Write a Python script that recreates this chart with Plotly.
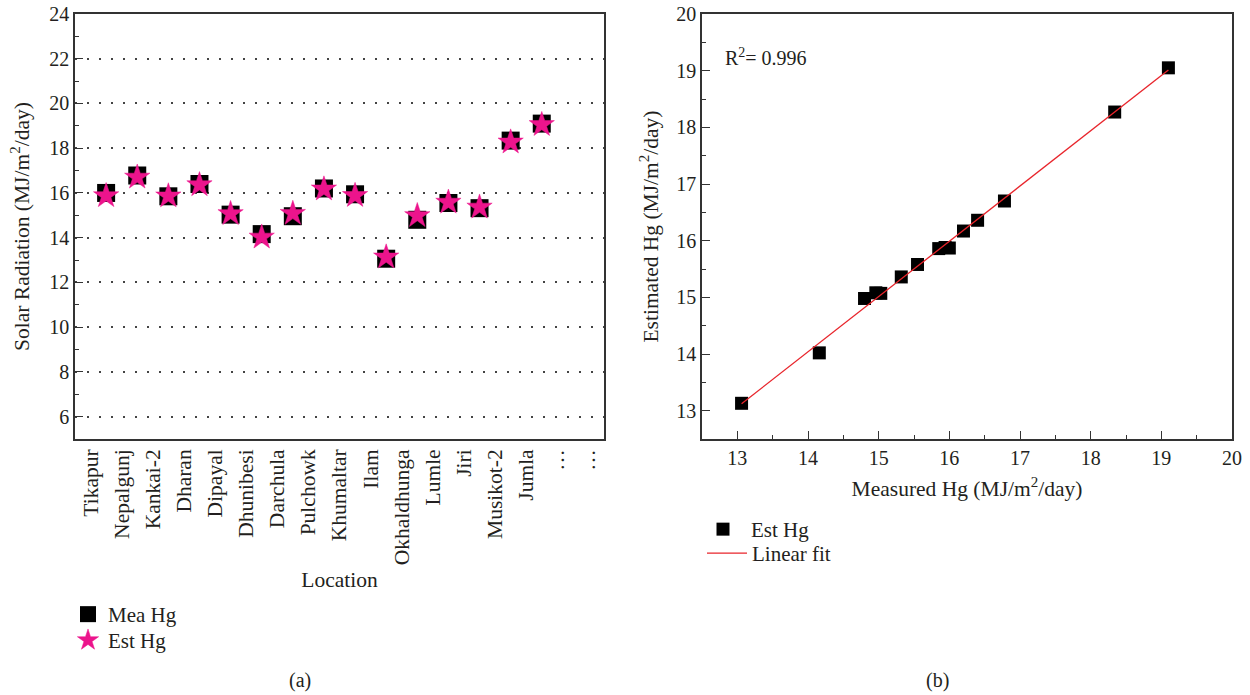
import numpy as np
import plotly.graph_objects as go

# ---------------- data ----------------
locations = ["Tikapur", "Nepalgunj", "Kankai-2", "Dharan", "Dipayal", "Dhunibesi",
             "Darchula", "Pulchowk", "Khumaltar", "Ilam", "Okhaldhunga", "Lumle",
             "Jiri", "Musikot-2", "Jumla"]
extra_labels = ["…", "…"]
mea_hg = [16.00, 16.78, 15.85, 16.40, 15.03, 14.16, 14.96, 16.20, 15.94, 13.06,
          14.80, 15.55, 15.32, 18.34, 19.10]
est_hg = [15.87, 16.70, 15.86, 16.36, 15.07, 14.02, 15.08, 16.17, 15.88, 13.13,
          14.98, 15.58, 15.36, 18.27, 19.05]
r2_label = "R<sup>2</sup>= 0.996"
y_ticks_a = [6, 8, 10, 12, 14, 16, 18, 20, 22, 24]

FONT = "Liberation Serif"
TXT = "#231f20"
AX = "#333333"
PINK = "#ec148c"

W, H = 1250, 695
OFF = 0  # page body margin is removed by the post script


def px_x(p):
    return (p - OFF) / W


def px_y(p):
    return 1 - (p - OFF) / H


positions = list(range(1, len(locations) + 1))
all_labels = locations + extra_labels
label_positions = [i + 0.5 for i in range(len(all_labels))]

slope, intercept = np.polyfit(mea_hg, est_hg, 1)
fit_x = [min(mea_hg), max(mea_hg)]
fit_y = [slope * v + intercept for v in fit_x]

fig = go.Figure()

# (a) location chart
fig.add_trace(go.Scatter(
    x=positions, y=mea_hg, mode="markers", name="Mea Hg",
    marker=dict(symbol="square", size=18, color="black", line=dict(width=0)),
    xaxis="x", yaxis="y", legend="legend"))
fig.add_trace(go.Scatter(
    x=positions, y=est_hg, mode="markers", name="Est Hg",
    marker=dict(symbol="star", size=19, color=PINK, line=dict(width=0.5, color=PINK)),
    xaxis="x", yaxis="y", legend="legend3"))

# (b) scatter with fit
fig.add_trace(go.Scatter(
    x=mea_hg, y=est_hg, mode="markers", name="Est Hg",
    marker=dict(symbol="square", size=13, color="black", line=dict(width=0)),
    xaxis="x2", yaxis="y2", legend="legend2"))
fig.add_trace(go.Scatter(
    x=fit_x, y=fit_y, mode="lines", name="Linear fit",
    line=dict(color="#e8242b", width=1.3),
    xaxis="x2", yaxis="y2", legend="legend4"))

dom_a_x = [px_x(75), px_x(604)]
dom_a_y = [px_y(439), px_y(14)]
dom_b_x = [px_x(702), px_x(1232)]
dom_b_y = [px_y(439), px_y(14)]

axis_common = dict(showline=True, linecolor=AX, linewidth=1.5, mirror=True,
                   zeroline=False, tickcolor=AX, tickwidth=1.2, automargin=False,
                   ticklabeloverflow="allow",
                   tickfont=dict(family=FONT, size=20, color=TXT))
minor_ticks = lambda d: dict(tickmode="linear", tick0=0, dtick=d, ticks="inside",
                             ticklen=4, tickcolor=AX, tickwidth=1.2, showgrid=False)
title_font = dict(family=FONT, size=21.5, color=TXT)
legend_font = dict(family=FONT, size=21, color=TXT)

fig.update_layout(
    width=W, height=H,
    margin=dict(l=0, r=0, t=0, b=0, pad=0),
    paper_bgcolor="white", plot_bgcolor="white",
    font=dict(family=FONT, size=20, color=TXT),
    showlegend=True,
    xaxis=dict(domain=dom_a_x, anchor="y", range=[0, 17],
               tickmode="array", tickvals=label_positions, ticktext=all_labels,
               tickangle=-90, ticks="", showgrid=False,
               title=dict(text="Location", standoff=8, font=title_font),
               **{**axis_common, "tickfont": dict(family=FONT, size=21.5, color=TXT)}),
    xaxis3=dict(overlaying="x", anchor="y", range=[0, 17], side="bottom",
                tickmode="linear", tick0=0, dtick=1, ticks="inside", ticklen=8,
                tickcolor=AX, tickwidth=1.2, minor=minor_ticks(0.5), automargin=False,
                showticklabels=False, showline=False, showgrid=False, zeroline=False),
    yaxis=dict(domain=dom_a_y, anchor="x", range=[5, 24],
               tickmode="array", tickvals=y_ticks_a,
               ticks="inside", ticklen=8, minor=minor_ticks(1),
               showgrid=True, gridcolor="#444444", gridwidth=1.5, griddash="2px,10px",
               title=dict(text="Solar Radiation (MJ/m<sup>2</sup>/day)", standoff=14,
                          font=title_font),
               **axis_common),
    xaxis2=dict(domain=dom_b_x, anchor="y2", range=[12.5, 20],
                tickmode="linear", tick0=0, dtick=1, ticks="inside", ticklen=8,
                minor=minor_ticks(0.5), showgrid=False,
                title=dict(text="Measured Hg (MJ/m<sup>2</sup>/day)", standoff=13,
                           font=title_font),
                **axis_common),
    yaxis2=dict(domain=dom_b_y, anchor="x2", range=[12.5, 20],
                tickmode="linear", tick0=0, dtick=1, ticks="inside", ticklen=8,
                minor=minor_ticks(0.5), showgrid=False,
                title=dict(text="Estimated Hg (MJ/m<sup>2</sup>/day)", standoff=12,
                           font=title_font),
                **axis_common),
    legend=dict(x=px_x(68), y=px_y(594), xanchor="left", yanchor="top",
                bgcolor="rgba(0,0,0,0)", font=legend_font, itemwidth=30),
    legend3=dict(x=px_x(68), y=px_y(620), xanchor="left", yanchor="top",
                 bgcolor="rgba(0,0,0,0)", font=legend_font, itemwidth=30),
    legend2=dict(x=px_x(695), y=px_y(509), xanchor="left", yanchor="top",
                 bgcolor="rgba(0,0,0,0)", font=legend_font, itemwidth=46),
    legend4=dict(x=px_x(702), y=px_y(533), xanchor="left", yanchor="top",
                 bgcolor="rgba(0,0,0,0)", font=legend_font, itemwidth=40),
    annotations=[
        dict(text=r2_label, x=12.8, y=19.24, xref="x2", yref="y2",
             xanchor="left", yanchor="middle", showarrow=False,
             font=dict(family=FONT, size=20, color=TXT)),
        dict(text="(a)", x=px_x(300), y=px_y(680), xref="paper", yref="paper",
             xanchor="center", yanchor="middle", showarrow=False,
             font=dict(family=FONT, size=20, color=TXT)),
        dict(text="(b)", x=px_x(937), y=px_y(680), xref="paper", yref="paper",
             xanchor="center", yanchor="middle", showarrow=False,
             font=dict(family=FONT, size=20, color=TXT)),
    ],
)

fig.write_html("out.html",
               config={"displayModeBar": False},
               post_script="document.body.style.margin='0';document.body.style.overflow='hidden';")
